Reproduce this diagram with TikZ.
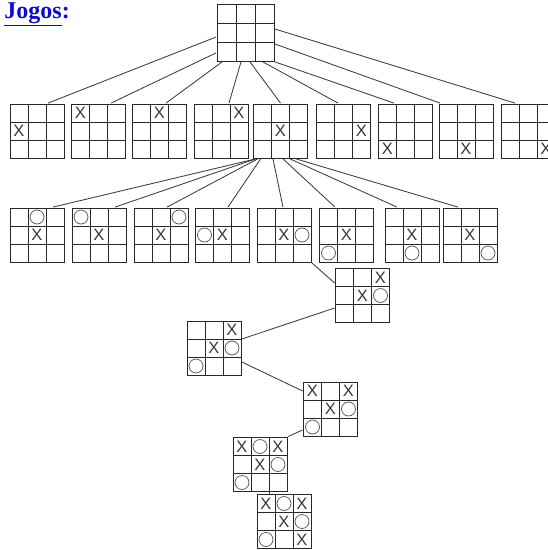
\documentclass[tikz,border=0pt]{standalone}
\usepackage{fontspec}
\usepackage{xcolor}
\usepackage{tikz}
\usetikzlibrary{matrix,positioning}
\newfontfamily\boardfont{Liberation Sans}
\newfontfamily\titlefont{Liberation Serif}
\definecolor{LinkBlue}{RGB}{10,10,210}
\definecolor{GridGray}{RGB}{40,40,40}
\definecolor{EdgeGray}{RGB}{60,60,60}
\definecolor{MarkGray}{RGB}{55,55,55}
\definecolor{RingGray}{RGB}{95,95,95}

\begin{document}
\begin{tikzpicture}[x=1pt, y=-1pt, line width=0.9pt,
    board/.style={matrix of nodes, nodes in empty cells, inner sep=0pt,
        column sep=-0.9pt, row sep=-0.9pt,
        nodes={draw=GridGray, minimum size=#1, inner sep=0pt, anchor=center,
            text=MarkGray, font=\boardfont\fontsize{16.5}{16.5}\selectfont}},
    board/.default=18pt,
    ring/.style={path picture={\draw[RingGray, line width=0.8pt] (path picture bounding box.center) circle (7pt);}},
    link/.style={draw=EdgeGray, line width=0.85pt}]
    \path[use as bounding box] (0,0) rectangle (548,550);
    \clip (0,0) rectangle (548,550);

    % title
    \node [anchor=base west, inner sep=0pt, text=LinkBlue, font=\titlefont\bfseries\fontsize{24}{24}\selectfont] (title) at (4,18) {\underline{Jogos}:};

    % empty board
    \matrix (root) [board=19pt] at (245.5,32.5) {& & \\ & & \\ & & \\};

    % first move of X
    \matrix (x1) [board] at (37,131) {& & \\ X & & \\ & & \\};
    \matrix (x2) [board] at (98.5,131) {X & & \\ & & \\ & & \\};
    \matrix (x3) [board] at (159.5,131) {& X & \\ & & \\ & & \\};
    \matrix (x4) [board] at (221,131) {& & X \\ & & \\ & & \\};
    \matrix (x5) [board] at (280.5,131) {& & \\ & X & \\ & & \\};
    \matrix (x6) [board] at (343.5,131) {& & \\ & & X \\ & & \\};
    \matrix (x7) [board] at (405.5,131) {& & \\ & & \\ X & & \\};
    \matrix (x8) [board] at (466,131) {& & \\ & & \\ & X & \\};
    \matrix (x9) [board] at (528,131) {& & \\ & & \\ & & X \\};

    % answers of O
    \matrix (o1) [board] at (37,235) {& |[ring]| & \\ & X & \\ & & \\};
    \matrix (o2) [board] at (99,235) {|[ring]| & & \\ & X & \\ & & \\};
    \matrix (o3) [board] at (161,235) {& & |[ring]| \\ & X & \\ & & \\};
    \matrix (o4) [board] at (222.5,235) {& & \\ |[ring]| & X & \\ & & \\};
    \matrix (o5) [board] at (284,235) {& & \\ & X & |[ring]| \\ & & \\};
    \matrix (o6) [board] at (346.5,235) {& & \\ & X & \\ |[ring]| & & \\};
    \matrix (o7) [board] at (412,235) {& & \\ & X & \\ & |[ring]| & \\};
    \matrix (o8) [board] at (470,235) {& & \\ & X & \\ & & |[ring]| \\};

    % one line of play
    \matrix (s1) [board] at (362.5,295.5) {& & X \\ & X & |[ring]| \\ & & \\};
    \matrix (s2) [board] at (214,348) {& & X \\ & X & |[ring]| \\ |[ring]| & & \\};
    \matrix (s3) [board] at (330.5,409) {X & & X \\ & X & |[ring]| \\ |[ring]| & & \\};
    \matrix (s4) [board] at (260,464.5) {X & |[ring]| & X \\ & X & |[ring]| \\ |[ring]| & & \\};
    \matrix (s5) [board] at (284,521.5) {X & |[ring]| & X \\ & X & |[ring]| \\ |[ring]| & & X \\};

    \draw [link] ([yshift=-4.5pt]root.west) -- ([xshift=11pt]x1.north);
    \draw [link] ([yshift=9pt]root.south west) -- ([xshift=12.5pt]x2.north);
    \draw [link] ([xshift=6pt]root.south west) -- ([xshift=6.5pt]x3.north);
    \draw [link] ([xshift=-4.5pt]root.south) -- ([xshift=8pt]x4.north);
    \draw [link] ([xshift=4.5pt]root.south) -- (x5.north);
    \draw [link] ([xshift=-12pt]root.south east) -- ([xshift=-5.5pt]x6.north);
    \draw [link] (root.south east) -- ([xshift=-11.5pt]x7.north);
    \draw [link] ([yshift=-11.5pt]root.east) -- ([xshift=2pt]x8.north west);
    \draw [link] ([yshift=3.5pt]root.east) -- ([xshift=-13pt]x9.north);

    \draw [link] ([xshift=3pt]x5.south west) -- ([xshift=16pt]o1.north);
    \draw [link] ([xshift=3pt]x5.south west) -- ([xshift=16pt]o2.north);
    \draw [link] ([xshift=5pt]x5.south west) -- ([xshift=6pt]o3.north);
    \draw [link] ([xshift=8pt]x5.south west) -- ([xshift=5.5pt]o4.north);
    \draw [link] ([xshift=-7.5pt]x5.south) -- ([xshift=-1pt]o5.north);
    \draw [link] ([xshift=2.5pt]x5.south) -- ([xshift=-11.5pt]o6.north);
    \draw [link] ([xshift=9.5pt]x5.south) -- ([xshift=-15pt]o7.north);
    \draw [link] ([xshift=15.5pt]x5.south) -- ([xshift=-12pt]o8.north);

    \draw [link] (o5.south east) -- ([yshift=12.5pt]s1.west);
    \draw [link] ([yshift=-12.5pt]s1.west) -- ([yshift=9pt]s2.east);
    \draw [link] ([yshift=-14pt]s2.east) -- ([yshift=18pt]s3.west);
    \draw [link] ([yshift=-21pt]s3.west) -- (s4.north east);
    \draw [link] ([xshift=9pt]s4.south) -- ([xshift=-15pt]s5.north);
\end{tikzpicture}
\end{document}
